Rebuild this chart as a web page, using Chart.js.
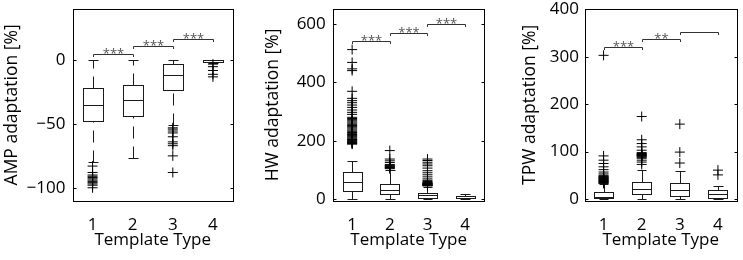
<!DOCTYPE html>
<html><head><meta charset="utf-8">
<script src="https://cdn.jsdelivr.net/npm/chart.js@4/dist/chart.umd.min.js"></script>
<style>
html,body{margin:0;padding:0;background:#fff;}
#wrap{position:relative;width:743px;height:260px;overflow:hidden;}
canvas{position:absolute;top:0;}
</style></head><body>
<div id="wrap">
<canvas id="c1" width="245" height="260" style="left:0px;width:245px;height:260px"></canvas>
<canvas id="c2" width="245" height="260" style="left:245px;width:245px;height:260px"></canvas>
<canvas id="c3" width="253" height="260" style="left:490px;width:253px;height:260px"></canvas>
</div>
<script>
// ---------- data ----------
const categories = [1, 2, 3, 4];
const categoryLabels = ['1', '2', '3', '4'];
const xTitle = 'Template Type';

// AMP adaptation
const ampWhiskerLow  = [-80, -77, -51, -2];
const ampQ1          = [-47.6, -44, -23.3, -1];
const ampMedian      = [-35, -31.4, -11.3, 0];
const ampQ3          = [-21.5, -19.1, -3.1, 0];
const ampWhiskerHigh = [0, 0, 0, 0];
const ampOutliers1 = [-83, -88, -90, -91, -92, -93, -94, -95, -96, -97, -98, -100];
const ampOutliers2 = [];
const ampOutliers3 = [-53, -54, -55.5, -57, -60, -64, -65.5, -67, -75, -88];
const ampOutliers4 = [-3, -5, -8, -11, -13];
const ampSigY = [5.3, 11.2, 16.5];
const ampSigText = ['***', '***', '***'];
const ampTicks = [-100, -50, 0];

// HW adaptation
const hwWhiskerLow  = [1, 1, 0, 0];
const hwQ1          = [26, 16, 4, 2];
const hwMedian      = [57, 31, 13, 5];
const hwQ3          = [93, 53, 22, 10];
const hwWhiskerHigh = [132, 100, 42, 18];
const hwOutliers1 = [188, 190, 192, 194, 196, 198, 200, 202, 204, 206, 209, 212, 215, 218, 221, 224, 228, 232, 236, 240, 244, 248, 252, 256, 260, 264, 268, 272, 276, 280, 290, 297, 305, 314, 322, 330, 337, 345, 369, 440, 446, 468, 512];
const hwOutliers2 = [104, 106, 108, 110, 112, 114, 116, 118, 125, 131, 137, 166];
const hwOutliers3 = [45, 46, 47, 48, 49, 50, 51, 52, 53, 54, 55, 57, 60, 64, 69, 76, 83, 90, 97, 106, 114, 120, 126, 132, 137];
const hwOutliers4 = [];
const hwSigY = [540, 570, 600];
const hwSigText = ['***', '***', '***'];
const hwTicks = [0, 200, 400, 600];

// TPW adaptation
const tpwWhiskerLow  = [0, 1, 1, 1];
const tpwQ1          = [1.5, 10, 6, 2.7];
const tpwMedian      = [3.5, 20.5, 20, 10];
const tpwQ3          = [15, 36.5, 33, 20];
const tpwWhiskerHigh = [31, 61, 59, 27];
const tpwOutliers1 = [33, 34, 35, 36, 37, 38, 39, 40, 41, 42, 43, 44, 45, 46, 47, 48, 50, 53, 57, 62, 68, 75, 82, 91, 303];
const tpwOutliers2 = [73, 78, 82, 86, 88, 90, 91, 92, 93, 94, 95, 96, 98, 103, 110, 117, 125, 174];
const tpwOutliers3 = [76, 99, 158];
const tpwOutliers4 = [51, 61];
const tpwSigY = [321, 337, 353];
const tpwSigText = ['***', '**', ''];
const tpwTicks = [0, 100, 200, 300, 400];

// ---------- drawing ----------
const FONT = "'Open Sans', 'DejaVu Sans', sans-serif";
const LINE = '#1a1a1a';
const snap = v => Math.round(v) + 0.5;

function boxPlugin(st) {
  return {
    id: 'boxes',
    beforeDatasetsDraw(chart) {
      const {ctx, scales: {x, y}} = chart;
      ctx.save();
      ctx.strokeStyle = LINE;
      ctx.lineWidth = 1;
      categories.forEach((c, i) => {
        const cx = x.getPixelForValue(c);
        const bl = snap(x.getPixelForValue(c - 0.25));
        const br = snap(x.getPixelForValue(c + 0.25));
        const cl = snap(x.getPixelForValue(c - 0.125));
        const cr = snap(x.getPixelForValue(c + 0.125));
        const xm = snap(cx);
        const yWl = snap(y.getPixelForValue(st.wl[i]));
        const yQ1 = snap(y.getPixelForValue(st.q1[i]));
        const yMed = snap(y.getPixelForValue(st.med[i]));
        const yQ3 = snap(y.getPixelForValue(st.q3[i]));
        const yWh = snap(y.getPixelForValue(st.wh[i]));
        ctx.setLineDash([12, 8]);
        ctx.beginPath();
        ctx.moveTo(xm, yWl); ctx.lineTo(xm, yQ1);
        ctx.stroke();
        ctx.beginPath();
        ctx.moveTo(xm, yQ3); ctx.lineTo(xm, yWh);
        ctx.stroke();
        ctx.setLineDash([]);
        ctx.beginPath();
        ctx.moveTo(cl, yWl); ctx.lineTo(cr, yWl);
        ctx.moveTo(cl, yWh); ctx.lineTo(cr, yWh);
        ctx.stroke();
        ctx.strokeRect(bl, yQ3, br - bl, yQ1 - yQ3);
        ctx.beginPath();
        ctx.moveTo(bl, yMed); ctx.lineTo(br, yMed);
        ctx.stroke();
      });
      ctx.strokeStyle = '#333';
      ctx.fillStyle = '#555';
      ctx.font = '13px ' + FONT;
      ctx.textAlign = 'center';
      ctx.textBaseline = 'alphabetic';
      st.sigY.forEach((v, j) => {
        const x1 = snap(x.getPixelForValue(categories[j]));
        const x2 = snap(x.getPixelForValue(categories[j + 1]));
        const yy = snap(y.getPixelForValue(v));
        ctx.beginPath();
        ctx.moveTo(x1, yy + 2.5); ctx.lineTo(x1, yy); ctx.lineTo(x2, yy); ctx.lineTo(x2, yy + 2.5);
        ctx.stroke();
        if (st.sig[j]) ctx.fillText(st.sig[j], (x1 + x2) / 2, yy + 3.5);
      });
      ctx.restore();
    },
    afterDraw(chart) {
      const {ctx, chartArea: a, scales: {y}} = chart;
      ctx.save();
      ctx.strokeStyle = '#000';
      ctx.lineWidth = 1;
      const L = snap(a.left), R = snap(a.right), T = snap(a.top), B = snap(a.bottom);
      ctx.strokeRect(L, T, R - L, B - T);
      ctx.beginPath();
      y.ticks.forEach(t => {
        const py = snap(y.getPixelForValue(t.value));
        ctx.moveTo(L, py); ctx.lineTo(L + 3, py);
        ctx.moveTo(R, py); ctx.lineTo(R - 3, py);
      });
      ctx.stroke();
      ctx.restore();
    }
  };
}

function fmt(v) { return v < 0 ? '\u2212' + Math.abs(v) : String(v); }

function makeChart(id, cfg) {
  const outlierSets = cfg.outliers.map((arr, i) => ({
    data: arr.map(v => ({x: categories[i], y: v})),
    pointStyle: 'cross',
    pointRadius: 5,
    pointBorderWidth: 1,
    borderColor: '#000',
    backgroundColor: 'transparent',
    showLine: false
  }));
  new Chart(document.getElementById(id), {
    type: 'scatter',
    data: {datasets: outlierSets},
    options: {
      responsive: false,
      animation: false,
      devicePixelRatio: 1,
      events: [],
      layout: {padding: {left: 0, right: cfg.padRight, top: 9.3, bottom: 0}},
      plugins: {legend: {display: false}, tooltip: {enabled: false}},
      scales: {
        x: {
          type: 'linear', min: 0.5, max: 4.5,
          grid: {display: false, drawTicks: false},
          border: {display: false},
          afterBuildTicks: s => { s.ticks = categories.map(v => ({value: v})); },
          afterFit: s => { s.height = 59.5; s.paddingLeft = 0; s.paddingRight = 0; },
          ticks: {
            padding: 14, color: '#000', font: {family: FONT, size: 17},
            callback: v => categoryLabels[categories.indexOf(v)]
          },
          title: {display: true, text: xTitle, color: '#000', font: {family: FONT, size: 17}, padding: {top: 0, bottom: 9.5}}
        },
        y: {
          type: 'linear', min: cfg.min, max: cfg.max,
          grid: {display: false, drawTicks: false},
          border: {display: false},
          afterBuildTicks: s => { s.ticks = cfg.ticks.map(v => ({value: v})); },
          afterFit: s => { s.width = cfg.axisWidth; s.paddingTop = 0; s.paddingBottom = 0; },
          ticks: {padding: cfg.tickPad, color: '#000', font: {family: FONT, size: 17}, callback: v => fmt(v)},
          title: {display: true, text: cfg.title, color: '#000', font: {family: FONT, size: 17.5}, padding: {top: cfg.titlePad, bottom: 0}}
        }
      }
    },
    plugins: [boxPlugin(cfg.stats)]
  });
}

makeChart('c1', {
  title: 'AMP adaptation [%]', min: -110, max: 40, ticks: ampTicks,
  axisWidth: 72.5, padRight: 12, tickPad: 7, titlePad: 1.5,
  outliers: [ampOutliers1, ampOutliers2, ampOutliers3, ampOutliers4],
  stats: {wl: ampWhiskerLow, q1: ampQ1, med: ampMedian, q3: ampQ3, wh: ampWhiskerHigh, sigY: ampSigY, sig: ampSigText}
});
makeChart('c2', {
  title: 'HW adaptation [%]', min: -5, max: 650, ticks: hwTicks,
  axisWidth: 88.3, padRight: 4, tickPad: 7.5, titlePad: 17.8,
  outliers: [hwOutliers1, hwOutliers2, hwOutliers3, hwOutliers4],
  stats: {wl: hwWhiskerLow, q1: hwQ1, med: hwMedian, q3: hwQ3, wh: hwWhiskerHigh, sigY: hwSigY, sig: hwSigText}
});
makeChart('c3', {
  title: 'TPW adaptation [%]', min: -3, max: 400, ticks: tpwTicks,
  axisWidth: 94.5, padRight: 4.3, tickPad: 5.5, titlePad: 29.5,
  outliers: [tpwOutliers1, tpwOutliers2, tpwOutliers3, tpwOutliers4],
  stats: {wl: tpwWhiskerLow, q1: tpwQ1, med: tpwMedian, q3: tpwQ3, wh: tpwWhiskerHigh, sigY: tpwSigY, sig: tpwSigText}
});
</script>
</body></html>
